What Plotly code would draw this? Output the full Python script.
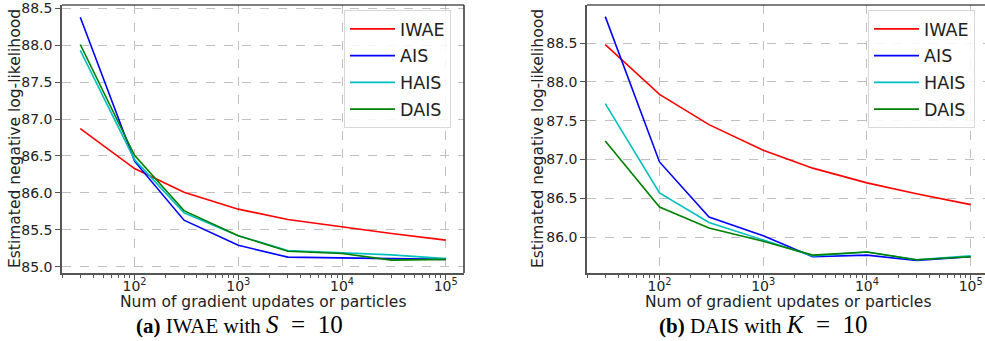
import plotly.graph_objects as go

x_vals = [30, 100, 300, 1000, 3000, 10000, 30000, 100000]

# (a) IWAE with S = 10
a_iwae = [86.87, 86.33, 86.01, 85.78, 85.64, 85.54, 85.45, 85.36]
a_ais = [88.38, 86.43, 85.63, 85.29, 85.13, 85.12, 85.11, 85.10]
a_hais = [87.93, 86.45, 85.73, 85.42, 85.22, 85.19, 85.16, 85.11]
a_dais = [88.01, 86.51, 85.76, 85.42, 85.21, 85.18, 85.09, 85.10]

# (b) DAIS with K = 10
b_iwae = [88.48, 87.84, 87.45, 87.12, 86.89, 86.70, 86.56, 86.42]
b_ais = [88.84, 86.97, 86.26, 86.02, 85.75, 85.77, 85.70, 85.75]
b_hais = [87.72, 86.57, 86.19, 85.96, 85.76, 85.81, 85.71, 85.76]
b_dais = [87.24, 86.39, 86.12, 85.95, 85.77, 85.81, 85.71, 85.75]

series_names = ["IWAE", "AIS", "HAIS", "DAIS"]
colors = ["#ff0000", "#0000ff", "#00bfbf", "#008000"]

major_ticks = [100, 1000, 10000, 100000]
major_text = ["10<sup>2</sup>", "10<sup>3</sup>", "10<sup>4</sup>", "10<sup>5</sup>"]
a_yticks = [85.0, 85.5, 86.0, 86.5, 87.0, 87.5, 88.0, 88.5]
b_yticks = [86.0, 86.5, 87.0, 87.5, 88.0, 88.5]

x_title = "Num of gradient updates or particles"
y_title = "Estimated negative log-likelihood"
MATH = "<span style='font-size:25px'>"
captions = [
    f"<b>(a)</b> IWAE with {MATH}<i>S</i>&nbsp;&nbsp;=&nbsp;&nbsp;10</span>",
    f"<b>(b)</b> DAIS with {MATH}<i>K</i>&nbsp;&nbsp;=&nbsp;&nbsp;10</span>",
]

W, H = 985, 341
FONT = "DejaVu Sans"

fig = go.Figure()

panels = [
    (a_iwae, a_ais, a_hais, a_dais),
    (b_iwae, b_ais, b_hais, b_dais),
]
for p, data in enumerate(panels):
    xa = "x" if p == 0 else "x2"
    ya = "y" if p == 0 else "y2"
    lg = "legend" if p == 0 else "legend2"
    for name, ys, c in zip(series_names, data, colors):
        fig.add_trace(go.Scatter(
            x=x_vals, y=ys, mode="lines", name=name,
            line=dict(color=c, width=1.6),
            xaxis=xa, yaxis=ya, legend=lg, legendgroup=f"{p}{name}",
        ))

ydom = [1 - 273 / H, 1 - 5 / H]
common_x = dict(
    type="log", tickvals=major_ticks, ticktext=major_text,
    ticks="outside", ticklen=5, tickcolor="#555", tickwidth=1,
    showgrid=True, gridcolor="#c0c0c0", griddash="dash", gridwidth=1,
    showline=True, linecolor="#555", linewidth=1.5,
    zeroline=False, automargin=False, ticklabelstandoff=-6,
    tickfont=dict(family=FONT, size=14, color="#222"),
    minor=dict(ticks="outside", ticklen=3, tickcolor="#555", dtick="D1", showgrid=False),
)
common_y = dict(
    ticks="outside", ticklen=5, tickcolor="#555",
    showgrid=True, gridcolor="#c0c0c0", griddash="dash", gridwidth=1,
    showline=True, linecolor="#555", linewidth=1.5,
    zeroline=False, tickformat=".1f", automargin=False,
    tickfont=dict(family=FONT, size=14, color="#222"),
)
leg = dict(
    xanchor="left", yanchor="top",
    bgcolor="rgba(255,255,255,0.85)", bordercolor="#d8d8d8", borderwidth=1,
    font=dict(family=FONT, size=17.5, color="#222"), tracegroupgap=1,
    itemwidth=45,
)

fig.update_layout(
    width=W, height=H,
    margin=dict(l=0, r=0, t=0, b=0),
    paper_bgcolor="white", plot_bgcolor="white",
    xaxis=dict(common_x, domain=[62 / W, 464 / W], range=[1.301, 5.176], anchor="y"),
    yaxis=dict(common_y, domain=ydom, range=[84.915, 88.545], tickvals=a_yticks, anchor="x"),
    xaxis2=dict(common_x, domain=[587 / W, 1.0], range=[1.301, 5.138], anchor="y2"),
    yaxis2=dict(common_y, domain=ydom, range=[85.54, 88.99], tickvals=b_yticks, anchor="x2"),
    legend=dict(leg, x=344 / W, y=1 - 10 / H),
    legend2=dict(leg, x=868 / W, y=1 - 10 / H),
    showlegend=True,
)

# top / right frame lines
fig.add_shape(type="line", xref="x domain", yref="y domain", x0=0, x1=1, y0=1, y1=1,
              line=dict(color="black", width=1.2))
fig.add_shape(type="line", xref="x domain", yref="y domain", x0=1, x1=1, y0=0, y1=1,
              line=dict(color="#333", width=1.5))
fig.add_shape(type="line", xref="x2 domain", yref="y2 domain", x0=0, x1=1, y0=1, y1=1,
              line=dict(color="black", width=1.2))

# axis titles
for cx, ycx in [((62 + 464) / 2, 15), ((587 + 989) / 2, 538)]:
    fig.add_annotation(x=cx / W, y=1 - 302 / H, xref="paper", yref="paper",
                       xanchor="center", yanchor="middle",
                       text=x_title, showarrow=False,
                       font=dict(family=FONT, size=15.5, color="#222"))
    fig.add_annotation(x=ycx / W, y=1 - 139 / H, xref="paper", yref="paper",
                       xanchor="center", yanchor="middle",
                       text=y_title, showarrow=False, textangle=-90,
                       font=dict(family=FONT, size=15.5, color="#222"))

# captions
for cx, cap in zip([239, 763], captions):
    fig.add_annotation(x=cx / W, y=1 - 324 / H, xref="paper", yref="paper",
                       xanchor="center", yanchor="middle",
                       text=cap, showarrow=False,
                       font=dict(family="Liberation Serif", size=21, color="black"))

fig.write_html("out.html", config={"displayModeBar": False},
               post_script="document.body.style.margin='0';document.body.style.overflow='hidden';")
